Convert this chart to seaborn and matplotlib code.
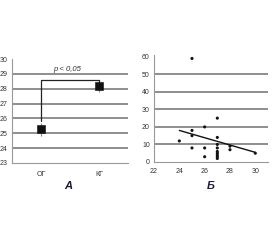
import matplotlib
matplotlib.use("Agg")
import matplotlib.pyplot as plt
import seaborn as sns
import pandas as pd
import numpy as np

# Panel A data
groups = ["ОГ", "КГ"]
means = [25.3, 28.2]
err_low = [24.8, 27.8]
err_high = [25.7, 28.5]
a_yticks = [23, 24, 25, 26, 27, 28, 29, 30]
p_text = "p < 0,05"

# Panel Б data
b_x = [25, 24, 25, 25, 25, 26, 26, 26, 27, 27, 27, 27, 27, 27, 27, 27, 27, 28, 28, 30]
b_y = [59, 12, 18, 15, 8, 20, 8, 3, 25, 14, 10, 8, 6, 5, 4, 3, 2, 9, 7, 5]
trend_x = [24, 30]
trend_y = [18, 5.5]
b_xticks = [22, 24, 26, 28, 30]
b_yticks = [0, 10, 20, 30, 40, 50, 60]

sns.set_theme(style="white")
plt.rcParams["font.family"] = ["Liberation Sans", "DejaVu Sans"]

fig = plt.figure(figsize=(2.8, 2.4), dpi=100)
axA = fig.add_axes([0.043, 0.321, 0.414, 0.433])
axB = fig.add_axes([0.55, 0.325, 0.407, 0.446])

grid_c = "#707070"
spine_c = "#999999"
tick_c = "#333333"

# ---------- Panel A ----------
dfA = pd.DataFrame({"group": groups, "mean": means, "lo": err_low, "hi": err_high})
for yv in a_yticks[1:-1]:
    axA.axhline(yv, color=grid_c, lw=1.1, zorder=0)
xpos = np.arange(len(groups))
axA.vlines(xpos, dfA["lo"], dfA["hi"], color="#888888", lw=0.8, zorder=2)
sns.scatterplot(data=dfA, x=xpos, y="mean", marker="s", s=28, color="#111111",
                edgecolor="#111111", ax=axA, zorder=3, legend=False)
# significance bracket
ytop = 28.6
axA.plot([xpos[0], xpos[0], xpos[1], xpos[1]], [25.8, ytop, ytop, 28.45],
         color="#222222", lw=0.9, zorder=2)
axA.text(0.45, 29.3, p_text, fontsize=5.5, style="italic", color="#333333",
         ha="center", va="center")
axA.set_xlim(-0.5, 1.5)
axA.set_ylim(23, 30)
axA.set_yticks(a_yticks)
axA.set_yticklabels([str(v) for v in a_yticks])
axA.set_xticks(xpos)
axA.set_xticklabels(groups)
axA.set_xticks([-0.5, 0.5, 1.5], minor=True)
axA.tick_params(axis="x", which="major", length=0, labelsize=5, colors=tick_c, pad=6)
axA.tick_params(axis="x", which="minor", length=2, color=spine_c, direction="inout")
axA.tick_params(axis="y", length=2, color=spine_c, labelsize=5, colors=tick_c, pad=1)
axA.set_xlabel("")
axA.set_ylabel("")
for s in ["top", "right"]:
    axA.spines[s].set_visible(False)
for s in ["left", "bottom"]:
    axA.spines[s].set_color(spine_c)
    axA.spines[s].set_linewidth(0.8)

# ---------- Panel Б ----------
dfB = pd.DataFrame({"x": b_x, "y": b_y})
for yv in b_yticks[1:-1]:
    axB.axhline(yv, color=grid_c, lw=1.1, zorder=0)
sns.scatterplot(data=dfB, x="x", y="y", s=5, color="#111111", edgecolor="none",
                ax=axB, zorder=3, legend=False)
sns.lineplot(x=trend_x, y=trend_y, color="#111111", lw=1.0, ax=axB, zorder=2)
axB.set_xlim(22, 31)
axB.set_ylim(0, 61)
axB.set_xticks(b_xticks)
axB.set_yticks(b_yticks)
axB.tick_params(axis="both", length=2, color=spine_c, labelsize=5, colors=tick_c, pad=1)
axB.tick_params(axis="x", pad=2)
axB.set_xlabel("")
axB.set_ylabel("")
for s in ["top", "right"]:
    axB.spines[s].set_visible(False)
for s in ["left", "bottom"]:
    axB.spines[s].set_color(spine_c)
    axB.spines[s].set_linewidth(0.8)

fig.text(0.243, 0.225, "А", fontsize=8, fontweight="bold", style="italic",
         color="#1a1a3a", ha="center", va="center")
fig.text(0.754, 0.225, "Б", fontsize=8, fontweight="bold", style="italic",
         color="#1a1a3a", ha="center", va="center")

fig.savefig("out.png", dpi=100)
